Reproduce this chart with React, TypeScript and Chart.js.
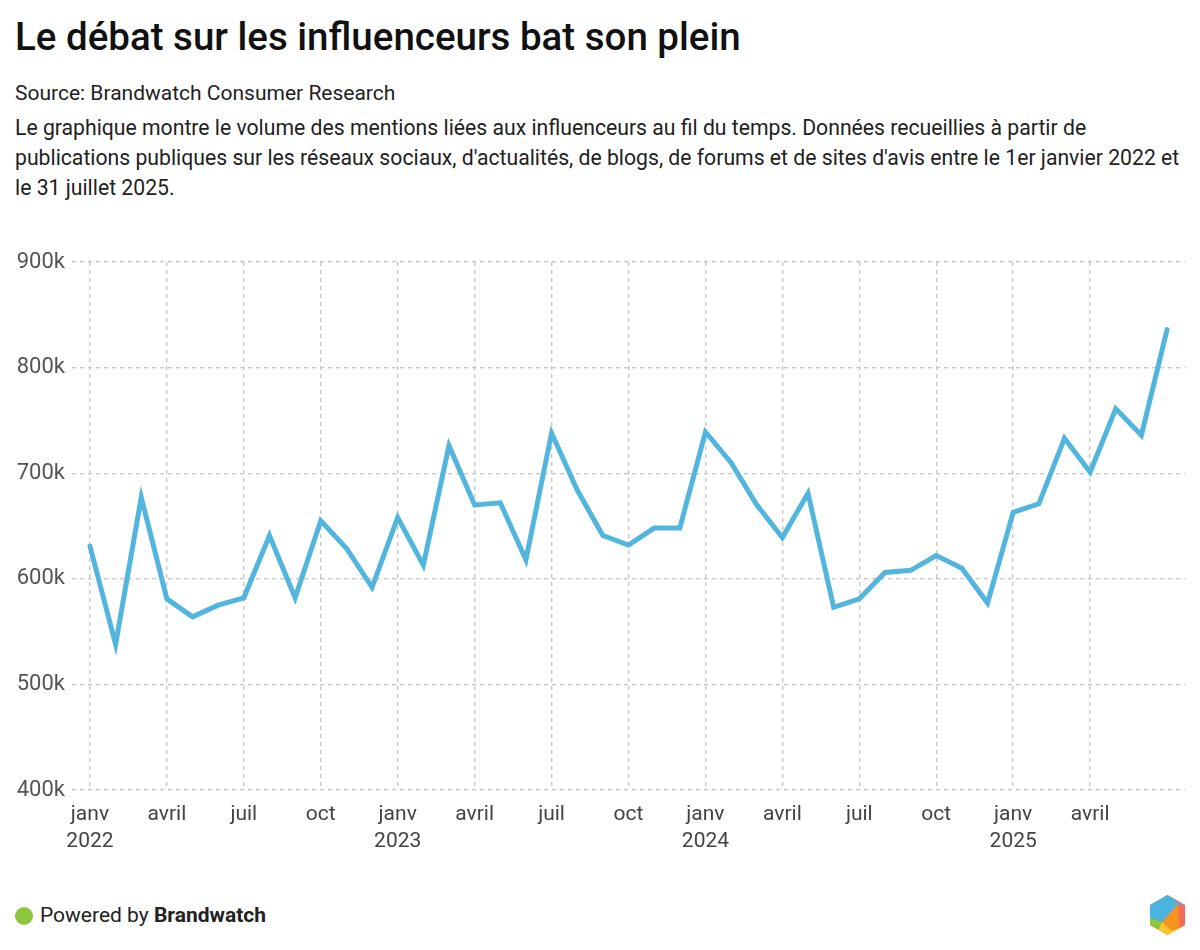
import React, { useEffect, useRef } from "react";
import { Chart, registerables } from "chart.js";

Chart.register(...registerables);

// Monthly mention volume (thousands), Jan 2022 – Jul 2025
const values2022 = [631, 538, 677, 581, 564, 575, 582, 641, 582, 655, 629, 592];
const values2023 = [658, 613, 726, 670, 672, 618, 738, 684, 641, 632, 648, 648];
const values2024 = [739, 710, 670, 639, 681, 573, 581, 606, 608, 622, 610, 577];
const values2025 = [663, 671, 733, 701, 761, 736, 836];

const quarterNames = ["janv", "avril", "juil", "oct"];
const years = ["2022", "2023", "2024", "2025"];
const tickMonthIndices = [0, 3, 6, 9, 12, 15, 18, 21, 24, 27, 30, 33, 36, 39];
const yTicks = [400000, 500000, 600000, 700000, 800000, 900000];

const allValues = [...values2022, ...values2023, ...values2024, ...values2025];

const FONT = "Roboto, 'Noto Sans', sans-serif";

function Logo() {
  return (
    <svg width="35" height="40" viewBox="0 0 35 40">
      <defs>
        <clipPath id="hexclip">
          <polygon points="17.5,0 35,10 35,30 17.5,40 0,30 0,10" />
        </clipPath>
      </defs>
      <g clipPath="url(#hexclip)">
        <rect x="0" y="0" width="35" height="40" fill="#f7941d" />
        <polygon points="17.5,0 22,2.5 28,10 27,10 12,27 0,23 0,0" fill="#4ab3e0" />
        <polygon points="17.5,0 35,0 35,10 28,10 22,2.5" fill="#9b8ec9" />
        <polygon points="28,10 35,10 35,32 30,35" fill="#f26b5b" />
        <polygon points="12,27 20,35 30,35 30,40 5,40 8,36" fill="#fdc52f" />
        <polygon points="0,23 12,27 8,36 0,34" fill="#8dc63f" />
      </g>
    </svg>
  );
}

export default function App() {
  const canvasRef = useRef<HTMLCanvasElement | null>(null);

  useEffect(() => {
    if (!canvasRef.current) return;
    const gridColor = "#c9c9c9";
    const chart = new Chart(canvasRef.current, {
      type: "line",
      data: {
        datasets: [
          {
            data: allValues.map((v, i) => ({ x: i, y: v * 1000 })),
            borderColor: "#52b5dd",
            borderWidth: 5,
            pointRadius: 0,
            tension: 0,
            fill: false,
            borderJoinStyle: "miter",
            borderCapStyle: "round",
          },
        ],
      },
      options: {
        animation: false,
        responsive: false,
        maintainAspectRatio: false,
        layout: { padding: { top: 22, right: 15, left: 0, bottom: 0 } },
        plugins: { legend: { display: false }, tooltip: { enabled: false } },
        scales: {
          x: {
            type: "linear",
            min: -0.7,
            max: 42.7,
            afterBuildTicks: (scale: any) => {
              scale.ticks = tickMonthIndices.map((v) => ({ value: v }));
            },
            afterFit: (scale: any) => {
              scale.height = 70;
            },
            border: { display: false, dash: [4, 4] },
            grid: {
              color: gridColor,
              lineWidth: 1.4,
              drawTicks: false,
            },
            ticks: {
              autoSkip: false,
              maxRotation: 0,
              padding: 11,
              color: "#444",
              font: { family: FONT, size: 21, lineHeight: 1.3 },
              callback: (value: any) => {
                const v = Number(value);
                const m = v % 12;
                const q = quarterNames[m / 3];
                return m === 0 ? [q, years[v / 12]] : q;
              },
            },
          },
          y: {
            min: 400000,
            max: 900000,
            afterBuildTicks: (scale: any) => {
              scale.ticks = yTicks.map((v) => ({ value: v }));
            },
            afterFit: (scale: any) => {
              scale.width = 72;
            },
            border: { display: false, dash: [4, 4] },
            grid: {
              color: gridColor,
              lineWidth: 1.4,
              drawTicks: false,
            },
            ticks: {
              padding: 7,
              color: "#555",
              font: { family: FONT, size: 22 },
              callback: (value: any) => `${Number(value) / 1000}k`,
            },
          },
        },
      },
    } as any);
    return () => chart.destroy();
  }, []);

  return (
    <div
      style={{
        position: "fixed",
        left: 0,
        top: 0,
        width: 1200,
        height: 950,
        background: "#fff",
        fontFamily: FONT,
        color: "#222",
        overflow: "hidden",
      }}
    >
      <div
        style={{
          position: "absolute",
          left: 15,
          top: 15,
          fontSize: 38.5,
          lineHeight: "44px",
          fontWeight: 500,
          color: "#111",
          whiteSpace: "nowrap",
        }}
      >
        Le débat sur les influenceurs bat son plein
      </div>
      <div
        style={{
          position: "absolute",
          left: 15,
          top: 78,
          fontSize: 21,
          lineHeight: "30px",
          whiteSpace: "nowrap",
        }}
      >
        Source: Brandwatch Consumer Research
      </div>
      <div
        style={{
          position: "absolute",
          left: 15,
          top: 113,
          fontSize: 21.2,
          lineHeight: "30px",
          whiteSpace: "nowrap",
        }}
      >
        Le graphique montre le volume des mentions liées aux influenceurs au fil du temps. Données recueillies à partir de
        <br />
        publications publiques sur les réseaux sociaux, d'actualités, de blogs, de forums et de sites d'avis entre le 1er janvier 2022 et
        <br />
        le 31 juillet 2025.
      </div>
      <canvas
        ref={canvasRef}
        width={1200}
        height={620}
        style={{ position: "absolute", left: 0, top: 240, width: 1200, height: 620 }}
      />
      <div
        style={{
          position: "absolute",
          left: 15,
          top: 907,
          width: 18,
          height: 18,
          borderRadius: "50%",
          background: "#8dc63f",
        }}
      />
      <div
        style={{
          position: "absolute",
          left: 40,
          top: 900,
          fontSize: 21,
          lineHeight: "30px",
          whiteSpace: "nowrap",
          color: "#222",
        }}
      >
        Powered by <span style={{ fontWeight: 700 }}>Brandwatch</span>
      </div>
      <div style={{ position: "absolute", left: 1150, top: 895 }}>
        <Logo />
      </div>
    </div>
  );
}
